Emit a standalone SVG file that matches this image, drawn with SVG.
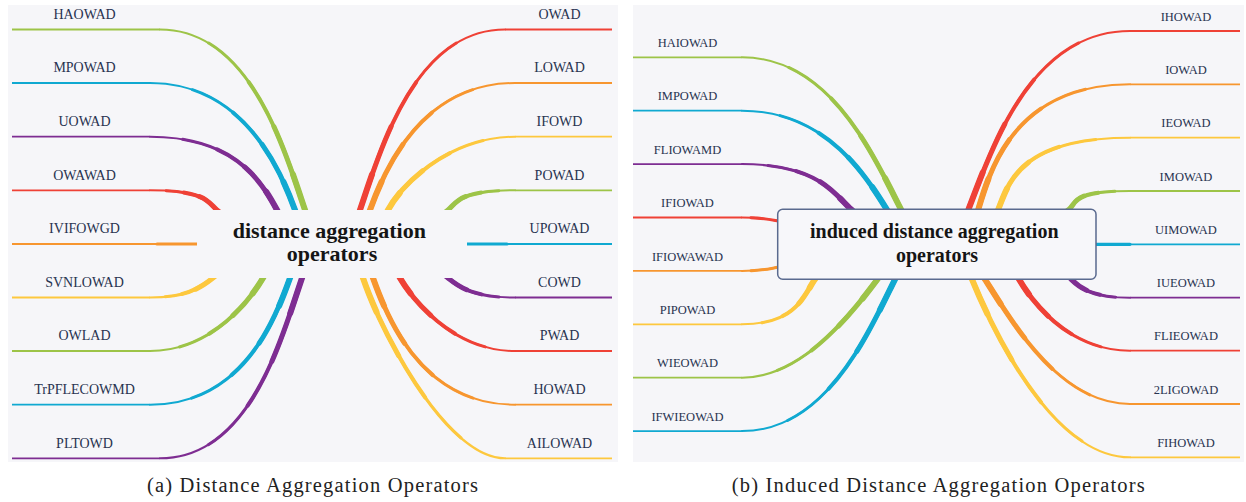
<svg xmlns="http://www.w3.org/2000/svg" xmlns:xlink="http://www.w3.org/1999/xlink" width="1246" height="502" viewBox="0 0 1246 502">
<style>
.bg{fill:#f6f6f9}
.hl{fill:none;stroke-width:1.8}
.tk{fill:none;stroke-width:3.2;stroke-linecap:round}
.cv use{fill:none;stroke-linecap:round}
.a{stroke-width:2}
.b{stroke-width:3;stroke-dasharray:80 200}
.c{stroke-width:4;stroke-dasharray:58 200}
.d{stroke-width:5;stroke-dasharray:38 200}
.e{stroke-width:6;stroke-dasharray:18 200}
.R{stroke:#ef4136}.O{stroke:#f7962f}.Y{stroke:#fdc83e}.G{stroke:#9dc448}.B{stroke:#10a9d1}.P{stroke:#7e2d92}
.lb{font-family:"Liberation Serif","Times New Roman",serif;fill:#283350;text-anchor:middle}
.la{font-size:14px}
.lr{font-size:12.5px}
.ct{font-family:"Liberation Serif","Times New Roman",serif;font-weight:bold;fill:#151515;text-anchor:middle}
.cap{font-family:"Liberation Serif","Times New Roman",serif;font-size:20.5px;fill:#222;text-anchor:middle}
</style>
<defs>
<path id="c1" pathLength="100" d="M307.6,217.6 L305,210 C284.4,149.5 250,29.5 160,29.5"/>
<path id="c2" pathLength="100" d="M297.7,217.5 L295,210 C279.9,168 242.4,83 150,83"/>
<path id="c3" pathLength="100" d="M280.8,217 L277,210 C262,182 235,136.7 150,136.7"/>
<path id="c4" pathLength="100" d="M223.3,214.9 L217,210 C208.6,203.4 207.7,190.3 150,190.3"/>
<path id="c6" pathLength="100" d="M219.3,273.1 L213,278 C204.6,284.6 190,297.5 150,297.5"/>
<path id="c7" pathLength="100" d="M267,271.1 L263,278 C249,302 210,351 150,351"/>
<path id="c8" pathLength="100" d="M292.7,270.5 L290,278 C274.9,320 242.4,404.7 150,404.7"/>
<path id="c9" pathLength="100" d="M304.6,270.4 L302,278 C281.4,338.5 250,458.3 160,458.3"/>
<path id="c10" pathLength="100" d="M357.4,217.6 L360,210 C380.6,149.5 415,29.5 505,29.5"/>
<path id="c11" pathLength="100" d="M367.3,217.5 L370,210 C385.1,168 422.6,83 515,83"/>
<path id="c12" pathLength="100" d="M384.2,217 L388,210 C403,182 452,136.7 515,136.7"/>
<path id="c13" pathLength="100" d="M441.7,214.9 L448,210 C456.4,203.4 457.3,190.3 515,190.3"/>
<path id="c15" pathLength="100" d="M441.7,273.1 L448,278 C456.4,284.6 470,297.5 515,297.5"/>
<path id="c16" pathLength="100" d="M396,271.1 L400,278 C414,302 455,351 515,351"/>
<path id="c17" pathLength="100" d="M370.3,270.5 L373,278 C388,320 422.6,404.7 515,404.7"/>
<path id="c18" pathLength="100" d="M360.4,270.4 L363,278 C383.6,338.5 448.4,458.3 505,458.3"/>
<path id="c19" pathLength="100" d="M904.7,216.4 L901,209.3 C874.5,158.3 831.2,57.3 742,57.3"/>
<path id="c20" pathLength="100" d="M890.9,216.1 L886.7,209.3 C866.2,176.3 825.6,110.7 742,110.7"/>
<path id="c21" pathLength="100" d="M856.9,214.7 L851,209.3 C834.5,194.3 818.5,164.1 742,164.1"/>
<path id="c22" pathLength="100" d="M786,222.5 L778,221 C770,219.5 762,217.5 742,217.5"/>
<path id="c23" pathLength="100" d="M786,266 L778,267.3 C770,268.5 762,270.9 742,270.9"/>
<path id="c24" pathLength="100" d="M819.7,272.8 L815,279.3 C804.2,294.3 796.8,324.3 742,324.3"/>
<path id="c25" pathLength="100" d="M882.3,272.9 L877.5,279.3 C852.8,312.3 802.3,377.7 742,377.7"/>
<path id="c26" pathLength="100" d="M898.6,272.1 L895,279.3 C869.5,330.3 827.1,431.1 742,431.1"/>
<path id="c27" pathLength="100" d="M965.6,216.8 L968.5,209.3 C991.5,150 1030,31 1130,31"/>
<path id="c28" pathLength="100" d="M976,217 L978.3,209.3 C990.9,167.2 1016,84.3 1130,84.3"/>
<path id="c29" pathLength="100" d="M995.3,216.7 L998.3,209.3 C1008.1,185.3 1018,137.7 1130,137.7"/>
<path id="c30" pathLength="100" d="M1062.6,214.1 L1069,209.3 C1077,203.2 1070,191 1130,191"/>
<path id="c32" pathLength="100" d="M1065.2,273.8 L1071,279.3 C1078,286 1090,297.7 1130,297.7"/>
<path id="c33" pathLength="100" d="M1015,272.4 L1019,279.3 C1032.9,303.3 1070,350.7 1130,350.7"/>
<path id="c34" pathLength="100" d="M980.7,272.6 L985,279.3 C1011.9,321.3 1059,404 1130,404"/>
<path id="c35" pathLength="100" d="M969,271.9 L972,279.3 C996.6,339.3 1055.6,457.3 1130,457.3"/>
</defs>
<rect x="0" y="0" width="1246" height="502" fill="#ffffff"/>
<rect class="bg" x="8" y="5" width="610" height="457"/>
<rect class="bg" x="633" y="5" width="611" height="457"/>
<g id="connectors">
<g id="conn-a-lines">
<path class="hl G" d="M12,29.5 H160"/>
<path class="hl B" d="M12,83 H150"/>
<path class="hl P" d="M12,136.7 H150"/>
<path class="hl R" d="M12,190.3 H150"/>
<path class="hl O" d="M12,244 H157"/>
<path class="tk O" d="M157,244 H205"/>
<path class="hl Y" d="M12,297.5 H150"/>
<path class="hl G" d="M12,351 H150"/>
<path class="hl B" d="M12,404.7 H150"/>
<path class="hl P" d="M12,458.3 H160"/>
<path class="hl R" d="M505,29.5 H612"/>
<path class="hl O" d="M515,83 H612"/>
<path class="hl Y" d="M515,136.7 H612"/>
<path class="hl G" d="M515,190.3 H612"/>
<path class="tk B" d="M460,244 H507"/>
<path class="hl B" d="M507,244 H612"/>
<path class="hl P" d="M515,297.5 H612"/>
<path class="hl R" d="M515,351 H612"/>
<path class="hl O" d="M515,404.7 H612"/>
<path class="hl Y" d="M505,458.3 H612"/>
</g>
<g id="conn-b-lines">
<path class="hl G" d="M633,57.3 H742"/>
<path class="hl B" d="M633,110.7 H742"/>
<path class="hl P" d="M633,164.1 H742"/>
<path class="hl R" d="M633,217.5 H742"/>
<path class="hl O" d="M633,270.9 H742"/>
<path class="hl Y" d="M633,324.3 H742"/>
<path class="hl G" d="M633,377.7 H742"/>
<path class="hl B" d="M633,431.1 H742"/>
<path class="hl R" d="M1130,31 H1240"/>
<path class="hl O" d="M1130,84.3 H1240"/>
<path class="hl Y" d="M1130,137.7 H1240"/>
<path class="hl G" d="M1130,191 H1240"/>
<path class="tk B" d="M1090,244.3 H1130"/>
<path class="hl B" d="M1130,244.3 H1240"/>
<path class="hl P" d="M1130,297.7 H1240"/>
<path class="hl R" d="M1130,350.7 H1240"/>
<path class="hl O" d="M1130,404 H1240"/>
<path class="hl Y" d="M1130,457.3 H1240"/>
</g>
<g id="conn-curves" class="cv">
<g class="G"><use href="#c1" class="a"/><use href="#c1" class="b"/><use href="#c1" class="c"/><use href="#c1" class="d"/><use href="#c1" class="e"/></g>
<g class="B"><use href="#c2" class="a"/><use href="#c2" class="b"/><use href="#c2" class="c"/><use href="#c2" class="d"/><use href="#c2" class="e"/></g>
<g class="P"><use href="#c3" class="a"/><use href="#c3" class="b"/><use href="#c3" class="c"/><use href="#c3" class="d"/><use href="#c3" class="e"/></g>
<g class="R"><use href="#c4" class="a"/><use href="#c4" class="b"/><use href="#c4" class="c"/><use href="#c4" class="d"/></g>
<g class="Y"><use href="#c6" class="a"/><use href="#c6" class="b"/><use href="#c6" class="c"/><use href="#c6" class="d"/></g>
<g class="G"><use href="#c7" class="a"/><use href="#c7" class="b"/><use href="#c7" class="c"/><use href="#c7" class="d"/><use href="#c7" class="e"/></g>
<g class="B"><use href="#c8" class="a"/><use href="#c8" class="b"/><use href="#c8" class="c"/><use href="#c8" class="d"/><use href="#c8" class="e"/></g>
<g class="P"><use href="#c9" class="a"/><use href="#c9" class="b"/><use href="#c9" class="c"/><use href="#c9" class="d"/><use href="#c9" class="e"/></g>
<g class="R"><use href="#c10" class="a"/><use href="#c10" class="b"/><use href="#c10" class="c"/><use href="#c10" class="d"/><use href="#c10" class="e"/></g>
<g class="O"><use href="#c11" class="a"/><use href="#c11" class="b"/><use href="#c11" class="c"/><use href="#c11" class="d"/><use href="#c11" class="e"/></g>
<g class="Y"><use href="#c12" class="a"/><use href="#c12" class="b"/><use href="#c12" class="c"/><use href="#c12" class="d"/><use href="#c12" class="e"/></g>
<g class="G"><use href="#c13" class="a"/><use href="#c13" class="b"/><use href="#c13" class="c"/><use href="#c13" class="d"/></g>
<g class="P"><use href="#c15" class="a"/><use href="#c15" class="b"/><use href="#c15" class="c"/><use href="#c15" class="d"/></g>
<g class="R"><use href="#c16" class="a"/><use href="#c16" class="b"/><use href="#c16" class="c"/><use href="#c16" class="d"/><use href="#c16" class="e"/></g>
<g class="O"><use href="#c17" class="a"/><use href="#c17" class="b"/><use href="#c17" class="c"/><use href="#c17" class="d"/><use href="#c17" class="e"/></g>
<g class="Y"><use href="#c18" class="a"/><use href="#c18" class="b"/><use href="#c18" class="c"/><use href="#c18" class="d"/><use href="#c18" class="e"/></g>
<g class="G"><use href="#c19" class="a"/><use href="#c19" class="b"/><use href="#c19" class="c"/><use href="#c19" class="d"/><use href="#c19" class="e"/></g>
<g class="B"><use href="#c20" class="a"/><use href="#c20" class="b"/><use href="#c20" class="c"/><use href="#c20" class="d"/><use href="#c20" class="e"/></g>
<g class="P"><use href="#c21" class="a"/><use href="#c21" class="b"/><use href="#c21" class="c"/><use href="#c21" class="d"/><use href="#c21" class="e"/></g>
<g class="R"><use href="#c22" class="a"/><use href="#c22" class="b"/></g>
<g class="O"><use href="#c23" class="a"/><use href="#c23" class="b"/></g>
<g class="Y"><use href="#c24" class="a"/><use href="#c24" class="b"/><use href="#c24" class="c"/><use href="#c24" class="d"/><use href="#c24" class="e"/></g>
<g class="G"><use href="#c25" class="a"/><use href="#c25" class="b"/><use href="#c25" class="c"/><use href="#c25" class="d"/><use href="#c25" class="e"/></g>
<g class="B"><use href="#c26" class="a"/><use href="#c26" class="b"/><use href="#c26" class="c"/><use href="#c26" class="d"/><use href="#c26" class="e"/></g>
<g class="R"><use href="#c27" class="a"/><use href="#c27" class="b"/><use href="#c27" class="c"/><use href="#c27" class="d"/><use href="#c27" class="e"/></g>
<g class="O"><use href="#c28" class="a"/><use href="#c28" class="b"/><use href="#c28" class="c"/><use href="#c28" class="d"/><use href="#c28" class="e"/></g>
<g class="Y"><use href="#c29" class="a"/><use href="#c29" class="b"/><use href="#c29" class="c"/><use href="#c29" class="d"/><use href="#c29" class="e"/></g>
<g class="G"><use href="#c30" class="a"/><use href="#c30" class="b"/><use href="#c30" class="c"/><use href="#c30" class="d"/></g>
<g class="P"><use href="#c32" class="a"/><use href="#c32" class="b"/><use href="#c32" class="c"/><use href="#c32" class="d"/></g>
<g class="R"><use href="#c33" class="a"/><use href="#c33" class="b"/><use href="#c33" class="c"/><use href="#c33" class="d"/><use href="#c33" class="e"/></g>
<g class="O"><use href="#c34" class="a"/><use href="#c34" class="b"/><use href="#c34" class="c"/><use href="#c34" class="d"/><use href="#c34" class="e"/></g>
<g class="Y"><use href="#c35" class="a"/><use href="#c35" class="b"/><use href="#c35" class="c"/><use href="#c35" class="d"/><use href="#c35" class="e"/></g>
</g>
</g>
<g id="center-a">
<rect class="bg" x="197" y="210" width="270" height="68"/>
<text class="ct" font-size="22" x="329.3" y="238.3">distance aggregation</text>
<text class="ct" font-size="22" x="332" y="261.3">operators</text>
</g>
<g id="center-b">
<rect x="777.7" y="209.3" width="318.3" height="70" rx="5" fill="#f7f7fa" stroke="#5a6a8f" stroke-width="1.5"/>
<text class="ct" font-size="20" x="934.3" y="238.3">induced distance aggregation</text>
<text class="ct" font-size="20" x="937" y="261.7">operators</text>
</g>
<g id="n-haowad"><text class="lb la" x="84.5" y="18.7">HAOWAD</text></g>
<g id="n-mpowad"><text class="lb la" x="84.5" y="72.3">MPOWAD</text></g>
<g id="n-uowad"><text class="lb la" x="84.5" y="125.9">UOWAD</text></g>
<g id="n-owawad"><text class="lb la" x="84.5" y="179.5">OWAWAD</text></g>
<g id="n-ivifowgd"><text class="lb la" x="84.5" y="233.1">IVIFOWGD</text></g>
<g id="n-svnlowad"><text class="lb la" x="84.5" y="286.7">SVNLOWAD</text></g>
<g id="n-owlad"><text class="lb la" x="84.5" y="340.3">OWLAD</text></g>
<g id="n-trpflecowmd"><text class="lb la" x="84.5" y="393.9">TrPFLECOWMD</text></g>
<g id="n-pltowd"><text class="lb la" x="84.5" y="447.5">PLTOWD</text></g>
<g id="n-owad"><text class="lb la" x="559.5" y="18.7">OWAD</text></g>
<g id="n-lowad"><text class="lb la" x="559.5" y="72.3">LOWAD</text></g>
<g id="n-ifowd"><text class="lb la" x="559.5" y="125.9">IFOWD</text></g>
<g id="n-powad"><text class="lb la" x="559.5" y="179.5">POWAD</text></g>
<g id="n-upowad"><text class="lb la" x="559.5" y="233.1">UPOWAD</text></g>
<g id="n-cowd"><text class="lb la" x="559.5" y="286.7">COWD</text></g>
<g id="n-pwad"><text class="lb la" x="559.5" y="340.3">PWAD</text></g>
<g id="n-howad"><text class="lb la" x="559.5" y="393.9">HOWAD</text></g>
<g id="n-ailowad"><text class="lb la" x="559.5" y="447.5">AILOWAD</text></g>
<g id="n-haiowad"><text class="lb lr" x="687.5" y="47">HAIOWAD</text></g>
<g id="n-impowad"><text class="lb lr" x="687.5" y="100.4">IMPOWAD</text></g>
<g id="n-fliowamd"><text class="lb lr" x="687.5" y="153.8">FLIOWAMD</text></g>
<g id="n-ifiowad"><text class="lb lr" x="687.5" y="207.2">IFIOWAD</text></g>
<g id="n-ifiowawad"><text class="lb lr" x="687.5" y="260.6">IFIOWAWAD</text></g>
<g id="n-pipowad"><text class="lb lr" x="687.5" y="314">PIPOWAD</text></g>
<g id="n-wieowad"><text class="lb lr" x="687.5" y="367.4">WIEOWAD</text></g>
<g id="n-ifwieowad"><text class="lb lr" x="687.5" y="420.8">IFWIEOWAD</text></g>
<g id="n-ihowad"><text class="lb lr" x="1186" y="20.7">IHOWAD</text></g>
<g id="n-iowad"><text class="lb lr" x="1186" y="74">IOWAD</text></g>
<g id="n-ieowad"><text class="lb lr" x="1186" y="127.4">IEOWAD</text></g>
<g id="n-imowad"><text class="lb lr" x="1186" y="180.7">IMOWAD</text></g>
<g id="n-uimowad"><text class="lb lr" x="1186" y="234">UIMOWAD</text></g>
<g id="n-iueowad"><text class="lb lr" x="1186" y="287.4">IUEOWAD</text></g>
<g id="n-flieowad"><text class="lb lr" x="1186" y="340.4">FLIEOWAD</text></g>
<g id="n-2ligowad"><text class="lb lr" x="1186" y="393.7">2LIGOWAD</text></g>
<g id="n-fihowad"><text class="lb lr" x="1186" y="447">FIHOWAD</text></g>
<g id="captions">
<text class="cap" x="312.5" y="492" textLength="331" lengthAdjust="spacing">(a) Distance Aggregation Operators</text>
<text class="cap" x="938.3" y="492" textLength="413" lengthAdjust="spacing">(b) Induced Distance Aggregation Operators</text>
</g>
</svg>
